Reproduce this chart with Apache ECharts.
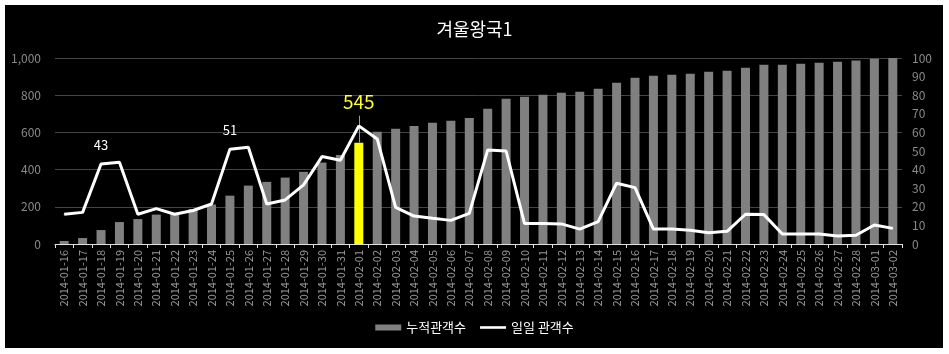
<!DOCTYPE html>
<html>
<head>
<meta charset="utf-8">
<script src="https://cdn.jsdelivr.net/npm/echarts@6/dist/echarts.min.js"></script>
<style>
  html, body { margin: 0; padding: 0; background: #fff; }
  #chart { width: 949px; height: 354px; }
</style>
</head>
<body>
<div id="chart"></div>
<script>
const dates = [
  '2014-01-16', '2014-01-17', '2014-01-18', '2014-01-19', '2014-01-20', '2014-01-21', '2014-01-22', '2014-01-23',
  '2014-01-24', '2014-01-25', '2014-01-26', '2014-01-27', '2014-01-28', '2014-01-29', '2014-01-30', '2014-01-31',
  '2014-02-01', '2014-02-02', '2014-02-03', '2014-02-04', '2014-02-05', '2014-02-06', '2014-02-07', '2014-02-08',
  '2014-02-09', '2014-02-10', '2014-02-11', '2014-02-12', '2014-02-13', '2014-02-14', '2014-02-15', '2014-02-16',
  '2014-02-17', '2014-02-18', '2014-02-19', '2014-02-20', '2014-02-21', '2014-02-22', '2014-02-23', '2014-02-24',
  '2014-02-25', '2014-02-26', '2014-02-27', '2014-02-28', '2014-03-01', '2014-03-02'
]

// 누적관객수 (left axis)
const cumulative = [
  16, 32, 75, 118, 134, 158, 165, 188,
  212, 260, 314, 334, 357, 388, 438, 479,
  545, 603, 619, 635, 652, 662, 678, 727,
  781, 792, 802, 813, 818, 835, 867, 894,
  905, 910, 915, 926, 932, 948, 964, 964,
  969, 975, 980, 986, 996, 1000
]

// 일일 관객수 (right axis)
const daily = [
  16, 17, 43, 44, 16, 19, 16, 18,
  21.5, 51, 52, 21.5, 23.7, 31.8, 47, 45,
  63.5, 56.5, 19.7, 15, 13.8, 12.7, 16.5, 50.6,
  50, 11, 11, 10.8, 8, 12, 32.7, 30.3,
  8, 8, 7.4, 6, 6.8, 16, 15.8, 5.4,
  5.4, 5.4, 4.3, 4.7, 10.2, 8.4
]

const highlightDate = '2014-02-01'
const labeledDaily = { '2014-01-18': '43', '2014-01-25': '51' }
const leftTicks = [0, 1000, 200]
const rightTicks = [0, 100, 10]

const FONT = '"Noto Sans CJK KR", "Noto Sans", sans-serif'

const barData = cumulative.map((v, i) => dates[i] === highlightDate
  ? { value: v, itemStyle: { color: '#ffff00' } }
  : v)

const lineData = daily.map((v, i) => labeledDaily[dates[i]]
  ? { value: v, label: { show: true, formatter: labeledDaily[dates[i]] } }
  : v)

const hlIndex = dates.indexOf(highlightDate)

const chart = echarts.init(document.getElementById('chart'))
chart.setOption({
  backgroundColor: '#ffffff',
  animation: false,
  textStyle: { fontFamily: FONT },
  graphic: [{
    type: 'rect', z: -10, silent: true,
    shape: { x: 5, y: 5, width: 938, height: 343 },
    style: { fill: '#000000' }
  }],
  title: {
    text: '겨울왕국1',
    left: 'center',
    top: 15,
    textStyle: { color: '#ffffff', fontSize: 18, fontWeight: 'normal', fontFamily: FONT }
  },
  legend: {
    bottom: 15,
    left: 'center',
    itemGap: 14,
    textStyle: { color: '#ffffff', fontSize: 13, fontFamily: FONT },
    data: [
      { name: '누적관객수', icon: 'rect', itemStyle: { color: '#808080' } },
      { name: '일일 관객수', icon: 'path://M0,0 L40,0 L40,4 L0,4 Z', itemStyle: { color: '#ffffff' } }
    ],
    itemWidth: 26,
    itemHeight: 6
  },
  grid: { left: 55, right: 47, top: 58, bottom: 110 },
  xAxis: {
    type: 'category',
    data: dates,
    axisLine: { lineStyle: { color: '#e0e0e0', width: 1 } },
    axisTick: { show: true, lineStyle: { color: '#e0e0e0' }, length: 4 },
    axisLabel: { rotate: 90, color: '#9a9a9a', fontSize: 11, interval: 0, margin: 6, fontFamily: FONT }
  },
  yAxis: [
    {
      type: 'value',
      min: leftTicks[0], max: leftTicks[1], interval: leftTicks[2],
      axisLine: { show: false },
      axisTick: { show: false },
      axisLabel: {
        color: '#8a8a8a', fontSize: 12, margin: 14,
        formatter: v => v.toLocaleString('en-US')
      },
      splitLine: { lineStyle: { color: '#444444', width: 1 } }
    },
    {
      type: 'value',
      min: rightTicks[0], max: rightTicks[1], interval: rightTicks[2],
      axisLine: { show: false },
      axisTick: { show: false },
      axisLabel: { color: '#8a8a8a', fontSize: 12, margin: 10 },
      splitLine: { show: false }
    }
  ],
  series: [
    {
      name: '누적관객수',
      type: 'bar',
      yAxisIndex: 0,
      data: barData,
      barWidth: 9,
      itemStyle: { color: '#808080' },
      markLine: {
        silent: true,
        symbol: 'none',
        lineStyle: { color: '#9a9a9a', width: 1, type: 'solid' },
        label: {
          show: true, position: 'end', formatter: String(cumulative[hlIndex]),
          color: '#ffff33', fontSize: 19, distance: 4
        },
        data: [[
          { coord: [highlightDate, cumulative[hlIndex]] },
          { coord: [highlightDate, 690] }
        ]]
      }
    },
    {
      name: '일일 관객수',
      type: 'line',
      yAxisIndex: 1,
      data: lineData,
      symbol: 'circle',
      symbolSize: 1,
      showSymbol: true,
      lineStyle: { color: '#ffffff', width: 3 },
      itemStyle: { color: '#ffffff' },
      label: { show: false, position: 'top', distance: 12, color: '#ffffff', fontSize: 13 },
      z: 5
    }
  ]
})
</script>
</body>
</html>
